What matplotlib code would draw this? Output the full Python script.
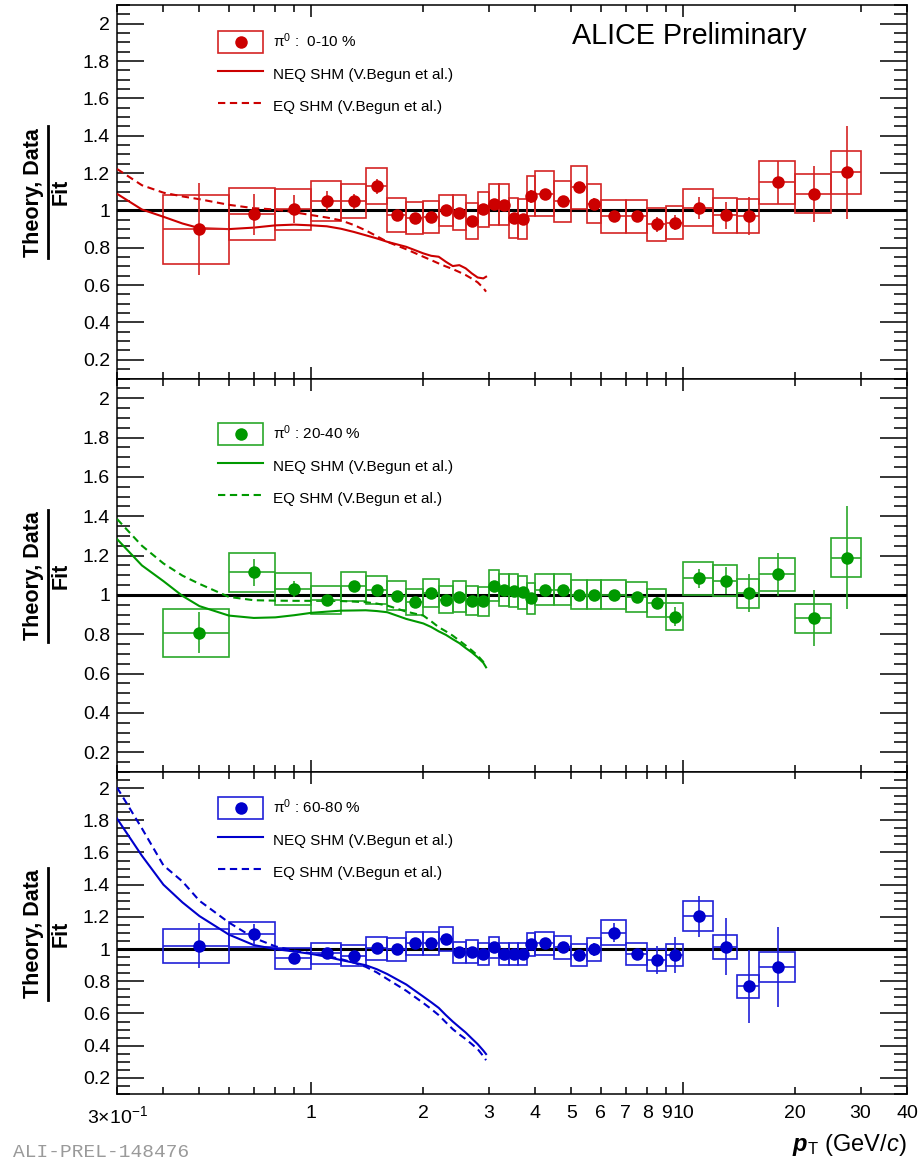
import numpy as np
import matplotlib
matplotlib.use("Agg")
import matplotlib.pyplot as plt
from matplotlib.patches import Rectangle
from matplotlib.lines import Line2D
from matplotlib.legend_handler import HandlerBase
from matplotlib.ticker import FixedLocator, FixedFormatter, NullFormatter, MultipleLocator

plt.rcParams['font.family'] = ['Liberation Sans', 'DejaVu Sans']
plt.rcParams['mathtext.fontset'] = 'custom'
plt.rcParams['mathtext.rm'] = 'Liberation Sans'
plt.rcParams['mathtext.it'] = 'Liberation Sans:italic'
plt.rcParams['mathtext.bf'] = 'Liberation Sans:bold'
plt.rcParams['mathtext.bfit'] = 'Liberation Sans:italic:bold'

# ---------------------------------------------------------------- data
# pT bin edges (GeV/c)
bin_edges = [0.4, 0.6, 0.8, 1.0, 1.2, 1.4, 1.6, 1.8, 2.0, 2.2, 2.4, 2.6, 2.8,
             3.0, 3.2, 3.4, 3.6, 3.8, 4.0, 4.5, 5.0, 5.5, 6.0, 7.0, 8.0, 9.0,
             10.0, 12.0, 14.0, 16.0, 20.0, 25.0, 30.0]

# pi0, 0-10 %: data / fit
ratio_0010 = [0.90, 0.98, 1.005, 1.05, 1.05, 1.13, 0.977, 0.96, 0.965, 1.0,
              0.988, 0.943, 1.005, 1.033, 1.03, 0.96, 0.956, 1.077, 1.09,
              1.048, 1.123, 1.036, 0.968, 0.968, 0.925, 0.934, 1.014, 0.973,
              0.97, 1.15, 1.09, 1.204]
stat_0010 = [0.245, 0.11, 0.075, 0.055, 0.04, 0.04, 0.02, 0.02, 0.02, 0.02,
             0.02, 0.02, 0.02, 0.03, 0.025, 0.02, 0.02, 0.035, 0.025, 0.02,
             0.03, 0.03, 0.02, 0.025, 0.04, 0.04, 0.058, 0.071, 0.1, 0.115,
             0.15, 0.25]
sys_0010 = [0.185, 0.14, 0.11, 0.107, 0.09, 0.095, 0.092, 0.085, 0.085, 0.083,
            0.095, 0.096, 0.096, 0.11, 0.11, 0.107, 0.107, 0.107, 0.119,
            0.111, 0.113, 0.103, 0.09, 0.09, 0.089, 0.089, 0.099, 0.093,
            0.09, 0.115, 0.104, 0.114]

# pi0, 20-40 %: data / fit
ratio_2040 = [0.807, 1.115, 1.03, 0.975, 1.044, 1.025, 0.997, 0.963, 1.01,
              0.976, 0.991, 0.971, 0.968, 1.047, 1.027, 1.022, 1.013, 0.983,
              1.027, 1.027, 1.0, 1.0, 1.0, 0.988, 0.957, 0.89, 1.084, 1.073,
              1.008, 1.105, 0.881, 1.19]
stat_2040 = [0.104, 0.069, 0.042, 0.02, 0.02, 0.02, 0.02, 0.02, 0.02, 0.02,
             0.02, 0.02, 0.02, 0.02, 0.02, 0.02, 0.02, 0.02, 0.02, 0.02, 0.02,
             0.02, 0.02, 0.02, 0.03, 0.049, 0.049, 0.068, 0.097, 0.11, 0.142,
             0.262]
sys_2040 = [0.122, 0.098, 0.08, 0.071, 0.074, 0.073, 0.074, 0.067, 0.073,
            0.07, 0.079, 0.074, 0.074, 0.08, 0.081, 0.082, 0.082, 0.078, 0.08,
            0.079, 0.074, 0.074, 0.074, 0.076, 0.071, 0.069, 0.083, 0.081,
            0.075, 0.085, 0.074, 0.099]

# pi0, 60-80 %: data / fit (last bin ends at 20 GeV/c)
ratio_6080 = [1.02, 1.093, 0.944, 0.973, 0.958, 1.004, 1.0, 1.035, 1.035,
              1.062, 0.979, 0.985, 0.969, 1.01, 0.969, 0.969, 0.969, 1.031,
              1.035, 1.01, 0.963, 1.0, 1.103, 0.969, 0.932, 0.963, 1.205,
              1.015, 0.768, 0.89]
stat_6080 = [0.14, 0.065, 0.02, 0.02, 0.02, 0.02, 0.02, 0.02, 0.02, 0.02,
             0.02, 0.02, 0.02, 0.02, 0.02, 0.02, 0.02, 0.02, 0.02, 0.02, 0.03,
             0.04, 0.057, 0.03, 0.088, 0.114, 0.127, 0.178, 0.228, 0.25]
sys_6080 = [0.104, 0.077, 0.065, 0.065, 0.065, 0.072, 0.072, 0.069, 0.072,
            0.075, 0.064, 0.069, 0.067, 0.066, 0.069, 0.069, 0.069, 0.072,
            0.069, 0.07, 0.067, 0.072, 0.08, 0.07, 0.067, 0.067, 0.091, 0.075,
            0.07, 0.092]

# SHM model curves (V. Begun et al.) / fit
pt_model = [0.3, 0.35, 0.4, 0.45, 0.5, 0.6, 0.7, 0.8, 0.9, 1.0, 1.1, 1.2, 1.3,
            1.4, 1.5, 1.6, 1.8, 2.0, 2.1, 2.2, 2.3, 2.4, 2.5, 2.6, 2.7, 2.8,
            2.9, 2.95]
neq_0010 = [1.089, 1.005, 0.966, 0.93, 0.905, 0.90, 0.908, 0.92, 0.924, 0.92,
            0.915, 0.902, 0.885, 0.867, 0.85, 0.832, 0.805, 0.77, 0.757,
            0.752, 0.725, 0.702, 0.707, 0.69, 0.663, 0.641, 0.636, 0.645]
eq_0010 = [1.222, 1.135, 1.095, 1.075, 1.06, 1.03, 1.012, 1.005, 0.99, 0.975,
           0.962, 0.947, 0.922, 0.893, 0.862, 0.832, 0.792, 0.752, 0.734,
           0.716, 0.70, 0.686, 0.67, 0.654, 0.635, 0.615, 0.585, 0.565]
neq_2040 = [1.284, 1.15, 1.07, 0.995, 0.943, 0.895, 0.883, 0.886, 0.897,
            0.909, 0.915, 0.92, 0.921, 0.922, 0.918, 0.912, 0.878, 0.855,
            0.837, 0.815, 0.797, 0.775, 0.755, 0.73, 0.708, 0.683, 0.655,
            0.632]
eq_2040 = [1.386, 1.25, 1.16, 1.098, 1.056, 0.99, 0.973, 0.971, 0.97, 0.97,
           0.97, 0.969, 0.966, 0.963, 0.956, 0.946, 0.915, 0.895, 0.866,
           0.836, 0.815, 0.793, 0.768, 0.743, 0.718, 0.692, 0.66, 0.641]
neq_6080 = [1.811, 1.58, 1.40, 1.29, 1.205, 1.09, 1.025, 1.0, 0.985, 0.97,
            0.952, 0.932, 0.916, 0.90, 0.875, 0.845, 0.78, 0.705, 0.67, 0.635,
            0.59, 0.55, 0.515, 0.482, 0.445, 0.41, 0.37, 0.348]
eq_6080 = [2.004, 1.75, 1.52, 1.42, 1.30, 1.165, 1.07, 1.017, 0.99, 0.974,
           0.958, 0.938, 0.916, 0.89, 0.855, 0.814, 0.741, 0.665, 0.628, 0.59,
           0.545, 0.503, 0.47, 0.441, 0.41, 0.379, 0.335, 0.31]

cent_labels = [r'$\mathrm{\pi}^{0}$ :  0-10 %', r'$\mathrm{\pi}^{0}$ : 20-40 %',
               r'$\mathrm{\pi}^{0}$ : 60-80 %']
neq_label = 'NEQ SHM (V.Begun et al.)'
eq_label = 'EQ SHM (V.Begun et al.)'

x_tick_minor = [0.3, 0.4, 0.5, 0.6, 0.7, 0.8, 0.9, 2, 3, 4, 5, 6, 7, 8, 9,
                20, 30, 40]
x_tick_minor_labels = [r'$3{\times}10^{-1}$', '', '', '', '', '', '', '2',
                       '3', '4', '5', '6', '7', '8', '9', '20', '30', '40']


class BoxMarkerHandler(HandlerBase):
    """Legend entry: open systematic box with the data marker centred in it."""

    def __init__(self, box_color, marker_color, **kw):
        super().__init__(**kw)
        self.box_color = box_color
        self.marker_color = marker_color

    def create_artists(self, legend, orig_handle, xdescent, ydescent, width,
                       height, fontsize, trans):
        rect = Rectangle((-xdescent, -ydescent), width, height, fill=False,
                         edgecolor=self.box_color, lw=1.2, transform=trans)
        dot = Line2D([width / 2 - xdescent], [height / 2 - ydescent],
                     ls='none', marker='o', ms=9, mew=0,
                     color=self.marker_color, transform=trans)
        return [rect, dot]


# ---------------------------------------------------------------- layout
W, H = 920, 1163
fig = plt.figure(figsize=(W / 100, H / 100), dpi=100)


def fx(px):
    return px / W


def fy(py):
    return 1 - py / H


left, right = 117, 907
pad_tops = [5, 378.5, 772]
pad_bottoms = [378.5, 772, 1094]

panels = [
    dict(ratio=ratio_0010, stat=stat_0010, sys=sys_0010, neq=neq_0010,
         eq=eq_0010, label=cent_labels[0], col='#cc0000', box='#d42424',
         leg_top=31),
    dict(ratio=ratio_2040, stat=stat_2040, sys=sys_2040, neq=neq_2040,
         eq=eq_2040, label=cent_labels[1], col='#009900', box='#2aa82a',
         leg_top=422.7),
    dict(ratio=ratio_6080, stat=stat_6080, sys=sys_6080, neq=neq_6080,
         eq=eq_6080, label=cent_labels[2], col='#0000cc', box='#2020d8',
         leg_top=796.7),
]

dash = (0, (3.5, 2.2))
edges = np.array(bin_edges)

for i, p in enumerate(panels):
    top, bot = pad_tops[i], pad_bottoms[i]
    ax = fig.add_axes([fx(left), fy(bot), fx(right - left), (bot - top) / H])
    n = len(p['ratio'])
    lo, hi = edges[:n], edges[1:n + 1]
    xc = 0.5 * (lo + hi)
    v = np.array(p['ratio'])
    st = np.array(p['stat'])
    sy = np.array(p['sys'])

    ax.axhline(1.0, color='black', lw=2.2, zorder=1.5)

    # systematic boxes
    ax.bar(lo, 2 * sy, width=hi - lo, bottom=v - sy, align='edge',
           fill=False, edgecolor=p['box'], linewidth=1.2, zorder=3)
    # model curves
    ax.plot(pt_model, p['neq'], color=p['col'], lw=1.5, zorder=3.5)
    ax.plot(pt_model, p['eq'], color=p['col'], lw=1.5, ls=dash, zorder=3.5)
    # points with bin width and statistical errors
    data_handle = ax.errorbar(xc, v, xerr=[xc - lo, hi - xc], yerr=st,
                              fmt='o', color=p['col'], ecolor=p['box'], ms=9,
                              mew=0, elinewidth=1.2, capsize=0, zorder=4)

    ax.set_xscale('log')
    ax.set_xlim(0.3, 40)
    ax.set_ylim(0.1, 2.1)

    ax.xaxis.set_major_locator(FixedLocator([1, 10]))
    ax.xaxis.set_minor_locator(FixedLocator(x_tick_minor))
    if i == 2:
        ax.xaxis.set_major_formatter(FixedFormatter(['1', '10']))
        ax.xaxis.set_minor_formatter(FixedFormatter(x_tick_minor_labels))
    else:
        ax.xaxis.set_major_formatter(NullFormatter())
        ax.xaxis.set_minor_formatter(NullFormatter())

    ax.yaxis.set_major_locator(FixedLocator(np.arange(0.2, 2.01, 0.2)))
    ax.yaxis.set_major_formatter(FixedFormatter(
        ['%g' % round(t, 1) for t in np.arange(0.2, 2.01, 0.2)]))
    ax.yaxis.set_minor_locator(MultipleLocator(0.05))

    ax.tick_params(which='both', direction='in', top=True, right=True,
                   width=1.1, colors='black', labelsize=14)
    ax.tick_params(axis='y', which='major', length=19.5, pad=5)
    ax.tick_params(axis='y', which='minor', length=9.7)
    ax.tick_params(axis='x', which='major', length=8.5, pad=8)
    ax.tick_params(axis='x', which='minor', length=4.8, pad=8)
    for s in ax.spines.values():
        s.set_linewidth(1.1)

    handles = [
        data_handle,
        Line2D([], [], color=p['col'], lw=1.5),
        Line2D([], [], color=p['col'], lw=1.5, ls=dash),
    ]
    ax.legend(handles, [p['label'], neq_label, eq_label],
              handler_map={data_handle: BoxMarkerHandler(p['box'], p['col'])},
              loc='upper left', bbox_to_anchor=(fx(218), fy(p['leg_top'])),
              bbox_transform=fig.transFigure, frameon=False, fontsize=11,
              handlelength=2.95, handleheight=1.84, labelspacing=0.65,
              handletextpad=0.65, borderpad=0, borderaxespad=0)

    # y-axis title as a fraction
    yc = 0.5 * (top + bot) + 0.5
    fig.text(fx(33), fy(yc), 'Theory, Data', rotation=90, ha='center',
             va='center', fontsize=15.5, fontweight='bold')
    fig.text(fx(61), fy(yc), 'Fit', rotation=90, ha='center', va='center',
             fontsize=15.5, fontweight='bold')
    fig.add_artist(Line2D([fx(48), fx(48)], [fy(yc - 66), fy(yc + 66)],
                          color='black', lw=2.0))

fig.text(fx(572), fy(44), 'ALICE Preliminary', fontsize=20.7, ha='left',
         va='baseline')
fig.text(fx(907), fy(1151), r'$\mathbfit{p}_{\mathrm{T}}$ (GeV/$\mathit{c}$)',
         fontsize=17, ha='right', va='baseline')
fig.text(fx(13), fy(1161), 'ALI-PREL-148476', family='Liberation Mono',
         fontsize=14, color='#9a9a9a', ha='left', va='bottom')

fig.savefig('out.png', dpi=100)
